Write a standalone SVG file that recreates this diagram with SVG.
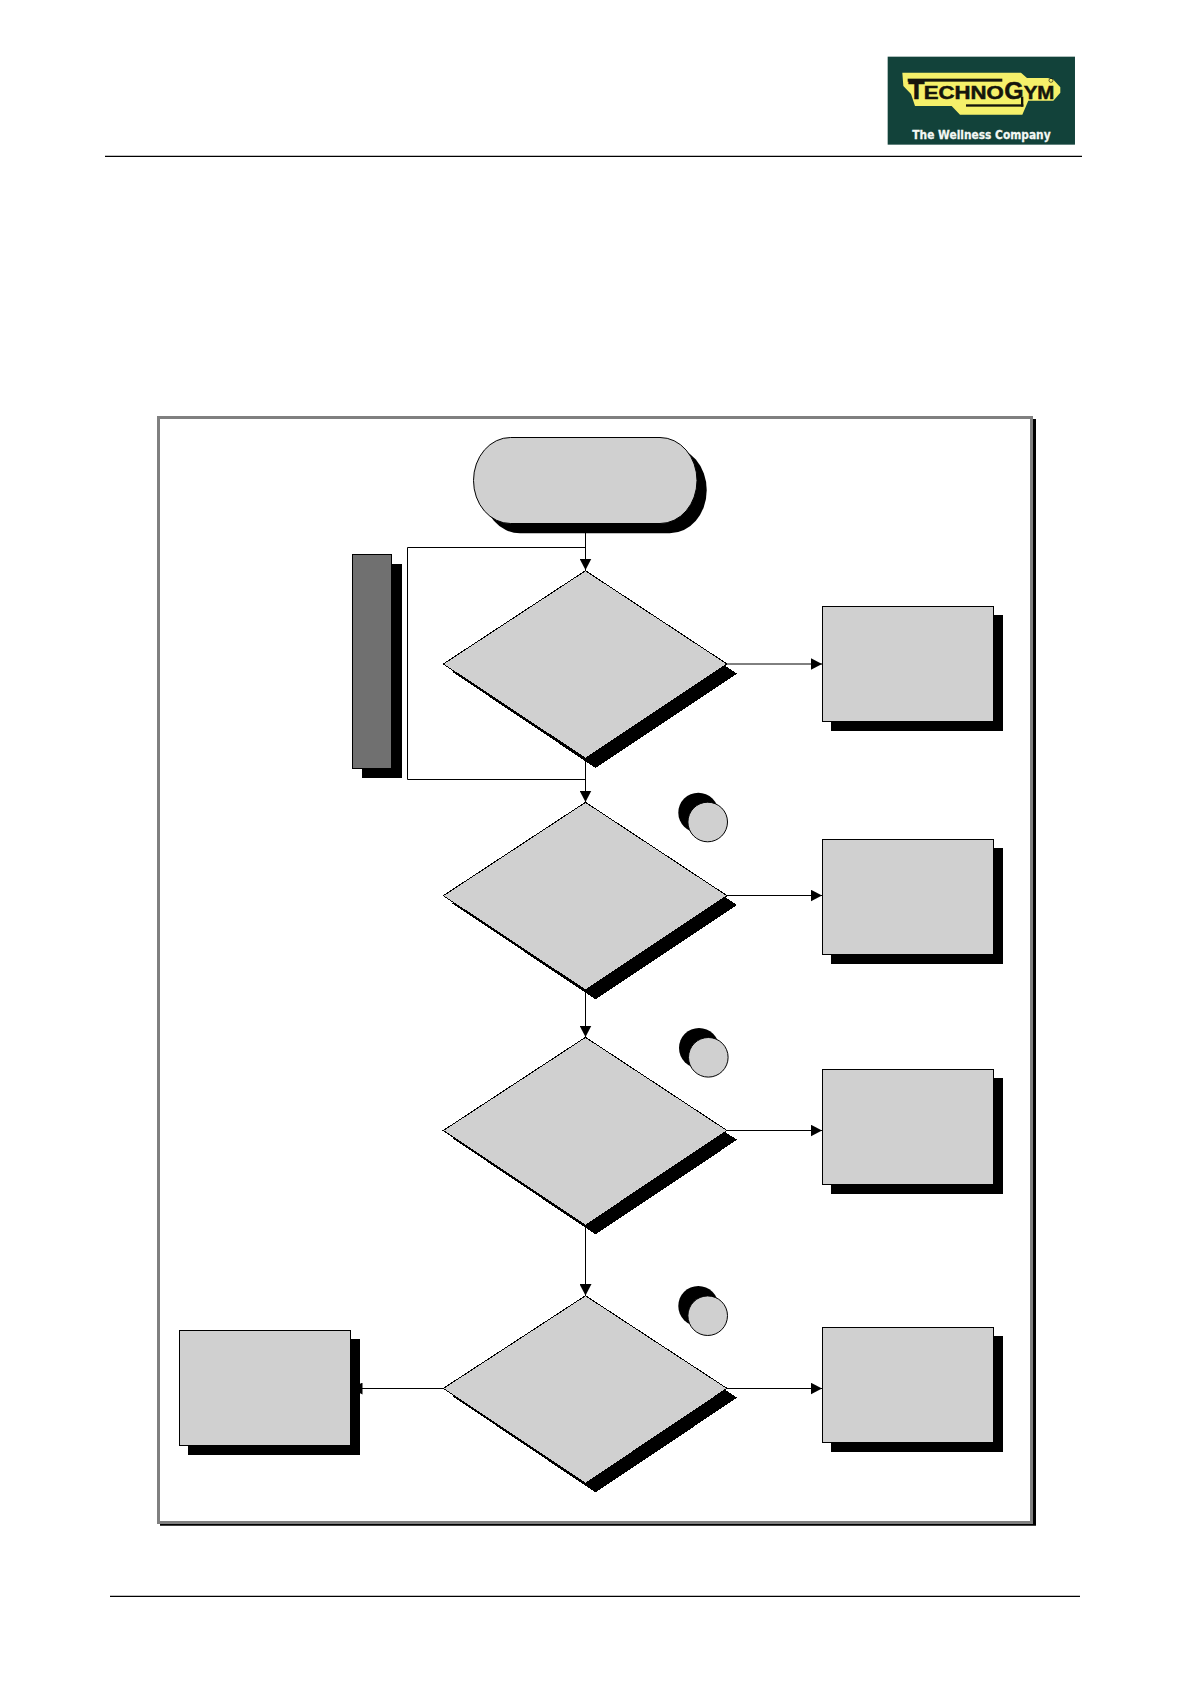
<svg xmlns="http://www.w3.org/2000/svg" width="1191" height="1684" viewBox="0 0 1191 1684">
<style>
.s{fill:#000;shape-rendering:crispEdges}
.n{fill:#d0d0d0;stroke:#000;stroke-width:1}
.d{fill:#d0d0d0;stroke:#000;stroke-width:1;shape-rendering:crispEdges}
.c{fill:none;stroke:#000;stroke-width:1}
.r{stroke:#000;stroke-width:1.3;fill:none}
</style>
<defs>
<marker id="arrow" markerUnits="userSpaceOnUse" markerWidth="12" markerHeight="12" refX="11.5" refY="6" orient="auto"><path d="M0 0L11.5 6L0 12Z" fill="#000"/></marker>
</defs>
<rect width="1191" height="1684" fill="#fff"/>
<g id="header">
<line class="r" x1="105" y1="156.4" x2="1082" y2="156.4"/>
<line class="r" x1="110" y1="1596.4" x2="1080" y2="1596.4"/>
</g>
<g id="logo" transform="translate(885 54) scale(.3333)">
<rect x="8" y="8" width="562" height="264" fill="#12423a"/>
<path d="M52 56H408L426 72H488L504 76L526 100V116L505 140H430L412 182H225L200 156H90L78 120L55 96Z" fill="#f5f06a"/>
<rect x="68" y="74" width="284" height="9" fill="#15150c"/>
<rect x="243" y="151" width="172" height="7" fill="#15150c"/>
<rect x="408" y="128" width="7" height="30" fill="#15150c"/>
<text y="135" font-family="'Liberation Sans',sans-serif" font-weight="700" fill="#15150c" stroke="#15150c" stroke-width="1.5"><tspan x="70" font-size="80">T</tspan><tspan x="116" font-size="54" textLength="240" lengthAdjust="spacingAndGlyphs">ECHNO</tspan><tspan x="358" font-size="72" textLength="58" lengthAdjust="spacingAndGlyphs">G</tspan><tspan x="416" font-size="56" textLength="92" lengthAdjust="spacingAndGlyphs">YM</tspan></text>
<circle cx="498" cy="79" r="6" fill="none" stroke="#15150c" stroke-width="2"/>
<text x="82" y="254" font-family="'DejaVu Sans',sans-serif" font-weight="700" font-size="35" fill="#f4f8f4" stroke="#f4f8f4" stroke-width=".8" textLength="415" lengthAdjust="spacingAndGlyphs">The Wellness Company</text>
</g>
<g id="frame">
<path d="M160 1522H1033V419H1036V1525.700H160Z" fill="#000"/>
<rect x="158.500" y="417.500" width="873" height="1105" fill="#fff" stroke="#808080" stroke-width="3"/>
</g>
<g id="connectors">
<path class="c" d="M585.500 533V570" marker-end="url(#arrow)"/>
<path class="c" d="M585.500 547.500H407.500V779.500H585.500"/>
<path class="c" d="M585.500 758V802" marker-end="url(#arrow)"/>
<path class="c" d="M585.500 990V1037" marker-end="url(#arrow)"/>
<path class="c" d="M585.500 1224V1295.500" marker-end="url(#arrow)"/>
<path class="c" d="M726 664H822" marker-end="url(#arrow)"/>
<path class="c" d="M726 895.500H822" marker-end="url(#arrow)"/>
<path class="c" d="M726 1130.500H822" marker-end="url(#arrow)"/>
<path class="c" d="M726 1388.500H822" marker-end="url(#arrow)"/>
<path class="c" d="M443 1388.500H351" marker-end="url(#arrow)"/>
</g>
<g id="start">
<rect class="s" x="483" y="447" width="223.700" height="86.300" rx="37" ry="43" style="shape-rendering:auto"/>
<rect class="n" x="473.500" y="437.500" width="223.500" height="86" rx="37" ry="43"/>
</g>
<g id="side-bar">
<rect class="s" x="362" y="564" width="40" height="214"/>
<rect x="352.500" y="554.500" width="39" height="214" fill="#707070" stroke="#000"/>
</g>
<g id="decision-1">
<polygon class="s" points="595.500,580 737,673.500 595.500,768 452.500,672"/>
<polygon class="d" points="585.500,570.700 727,664 585.500,758.300 443.300,664"/>
</g>
<g id="decision-2">
<polygon class="s" points="595.500,811.500 737,905 595.500,999.500 452.500,903.500"/>
<polygon class="d" points="585.500,802.300 727,895.700 585.500,990 443.300,895.700"/>
</g>
<g id="decision-3">
<polygon class="s" points="595.500,1046.500 737,1139.800 595.500,1234.500 452.500,1138.300"/>
<polygon class="d" points="585.500,1037.300 727,1130.500 585.500,1225.200 443.300,1130.500"/>
</g>
<g id="decision-4">
<polygon class="s" points="595.500,1305 737,1397.700 595.500,1492.500 452.500,1396.200"/>
<polygon class="d" points="585.500,1295.700 727,1388.400 585.500,1483.300 443.300,1388.400"/>
</g>
<g id="box-1">
<rect class="s" x="831" y="615" width="172" height="116"/>
<rect class="n" x="822.500" y="606.500" width="171" height="115"/>
</g>
<g id="box-2">
<rect class="s" x="831" y="848" width="172" height="116"/>
<rect class="n" x="822.500" y="839.500" width="171" height="115"/>
</g>
<g id="box-3">
<rect class="s" x="831" y="1078" width="172" height="116"/>
<rect class="n" x="822.500" y="1069.500" width="171" height="115"/>
</g>
<g id="box-4">
<rect class="s" x="831" y="1336" width="172" height="116"/>
<rect class="n" x="822.500" y="1327.500" width="171" height="115"/>
</g>
<g id="box-5">
<rect class="s" x="188" y="1339" width="172" height="116"/>
<rect class="n" x="179.500" y="1330.500" width="171" height="115"/>
</g>
<g id="circle-1">
<circle class="s" cx="698.300" cy="812.700" r="20" style="shape-rendering:auto"/>
<circle class="n" cx="707.700" cy="822" r="19.800"/>
</g>
<g id="circle-2">
<circle class="s" cx="699" cy="1048" r="20" style="shape-rendering:auto"/>
<circle class="n" cx="708.300" cy="1057.300" r="19.800"/>
</g>
<g id="circle-3">
<circle class="s" cx="698.300" cy="1306" r="20" style="shape-rendering:auto"/>
<circle class="n" cx="707.700" cy="1315.700" r="19.800"/>
</g>
</svg>
